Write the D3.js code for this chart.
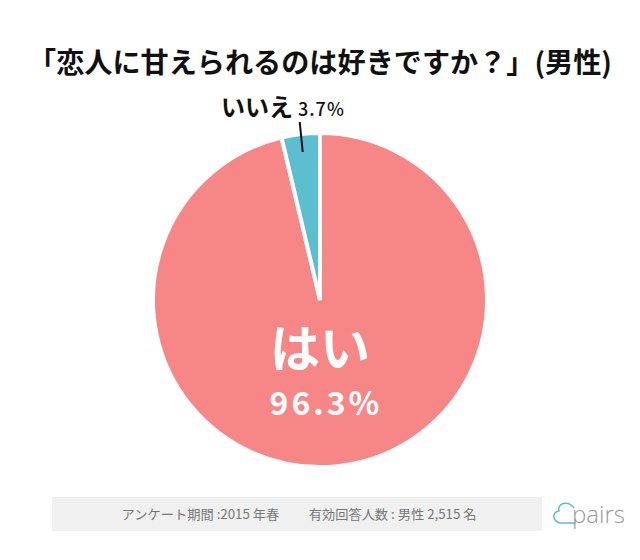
<!DOCTYPE html>
<html><head><meta charset="utf-8">
<script src="https://cdn.jsdelivr.net/npm/d3@7"></script>
<style>body{margin:0;background:#fff;}svg{display:block;}</style>
</head><body>
<svg id="c" width="640" height="560"></svg>
<script>
const title = "「恋人に甘えられるのは好きですか？」(男性)";
const categories = ["はい", "いいえ"];
const values = [96.3, 3.7];
const colors = ["#f78787", "#5bbfcf"];
const footerText = "アンケート期間 :2015 年春　　 有効回答人数 : 男性 2,515 名";

const svg = d3.select("#c");
const font = "'Noto Sans CJK JP', 'Noto Sans', sans-serif";

svg.append("text").attr("x", 320).attr("y", 73).attr("text-anchor", "middle")
  .attr("font-family", font).attr("font-weight", 700).attr("font-size", 28)
  .attr("fill", "#111").attr("textLength", 584).attr("lengthAdjust", "spacingAndGlyphs").text(title);

const cx = 320, cy = 300, r = 167;
const pie = d3.pie().sort(null).value(d => d)(values);
const arc = d3.arc().innerRadius(0).outerRadius(r);
const g = svg.append("g").attr("transform", `translate(${cx},${cy})`);
g.selectAll("path").data(pie).join("path")
  .attr("d", arc).attr("fill", (d, i) => colors[i])
  .attr("stroke", "#fff").attr("stroke-width", 4).attr("stroke-linejoin", "miter");

g.append("text").attr("x", 0).attr("y", 67).attr("text-anchor", "middle")
  .attr("font-family", font).attr("font-weight", 700).attr("font-size", 50)
  .attr("fill", "#fff").text(categories[0]);
g.append("text").attr("x", 6).attr("y", 115).attr("text-anchor", "middle")
  .attr("font-family", font).attr("font-weight", 700).attr("font-size", 32)
  .attr("letter-spacing", 3)
  .attr("fill", "#fff").text(values[0].toFixed(1) + "%");

const small = pie[1];
const mid = (small.startAngle + small.endAngle) / 2;
const p1 = [Math.sin(mid) * (r - 18), -Math.cos(mid) * (r - 18)];
const p2 = [p1[0] - 3, -r - 11];
g.append("line").attr("x1", p1[0]).attr("y1", p1[1]).attr("x2", p2[0]).attr("y2", p2[1])
  .attr("stroke", "#111").attr("stroke-width", 2);
const lt = svg.append("text").attr("x", 221).attr("y", 116)
  .attr("font-family", font).attr("fill", "#111");
lt.append("tspan").attr("font-weight", 700).attr("font-size", 24).text(categories[1]);
lt.append("tspan").attr("font-weight", 500).attr("font-size", 18).attr("dx", 5)
  .attr("letter-spacing", 1).text(values[1].toFixed(1) + "%");

svg.append("rect").attr("x", 52).attr("y", 497).attr("width", 490).attr("height", 34).attr("fill", "#f0f0f0");
svg.append("text").attr("x", 299).attr("y", 519).attr("text-anchor", "middle")
  .attr("font-family", font).attr("font-size", 13).attr("fill", "#777")
  .attr("textLength", 355).attr("lengthAdjust", "spacingAndGlyphs")
  .text(footerText);

const lg = svg.append("g");
lg.append("path").attr("d", "M574,508 C568,500 557,503 559,511 C552,512 552,521 560,523 L576,523")
  .attr("fill", "none").attr("stroke", "#5bbfcf").attr("stroke-width", 1.5);
lg.append("text").attr("x", 572).attr("y", 523).attr("font-family", "'Open Sans', sans-serif")
  .attr("font-weight", 300).attr("font-size", 24).attr("fill", "#999").text("pairs");
</script>
</body></html>
